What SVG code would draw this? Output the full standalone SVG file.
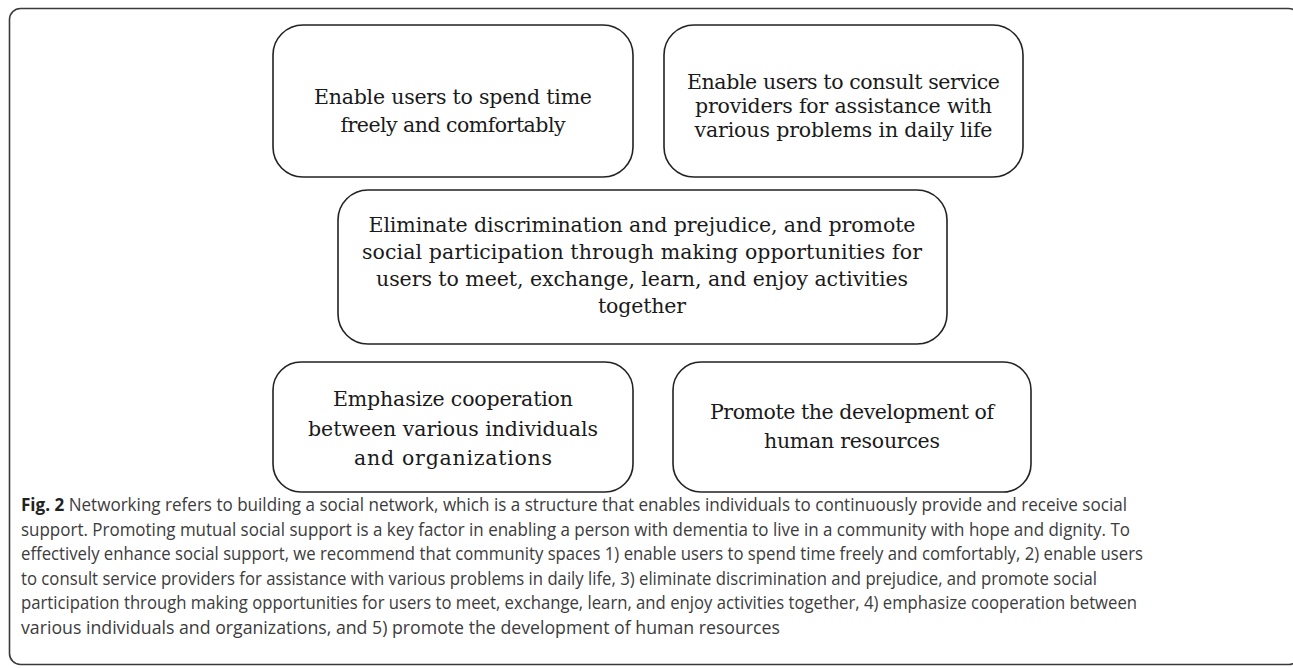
<svg xmlns="http://www.w3.org/2000/svg" width="1293" height="668" viewBox="0 0 1293 668">
  <style>
    .frame { fill: #ffffff; stroke: #3a3a3a; stroke-width: 1.6; }
    .box { fill: #ffffff; stroke: #222222; stroke-width: 1.6; }
    .lbl { font-family: "DejaVu Serif", "Liberation Serif", serif; font-size: 20.5px; fill: #1a1a1a; text-anchor: middle; }
    .cap { font-family: "Open Sans", "Liberation Sans", sans-serif; font-size: 18px; fill: #3c3c3c; }
    .b { font-weight: bold; fill: #222222; }
  </style>

  <!-- figure frame -->
  <rect class="frame" x="9.5" y="8.5" width="1290" height="656" rx="11"/>

  <g id="node-spend-time">
    <rect class="box" x="273" y="25" width="360" height="152" rx="30"/>
    <text class="lbl" x="453" y="104" textLength="278" lengthAdjust="spacing">Enable users to spend time</text>
    <text class="lbl" x="453" y="132" textLength="225" lengthAdjust="spacing">freely and comfortably</text>
  </g>

  <g id="node-consult">
    <rect class="box" x="664" y="25" width="359" height="152" rx="30"/>
    <text class="lbl" x="843.5" y="89" textLength="313" lengthAdjust="spacing">Enable users to consult service</text>
    <text class="lbl" x="843.5" y="113" textLength="297" lengthAdjust="spacing">providers for assistance with</text>
    <text class="lbl" x="843.5" y="137" textLength="298" lengthAdjust="spacing">various problems in daily life</text>
  </g>

  <g id="node-eliminate">
    <rect class="box" x="338" y="190" width="609" height="154" rx="30"/>
    <text class="lbl" x="642" y="232" textLength="547" lengthAdjust="spacing">Eliminate discrimination and prejudice, and promote</text>
    <text class="lbl" x="642" y="259" textLength="560" lengthAdjust="spacing">social participation through making opportunities for</text>
    <text class="lbl" x="642" y="286" textLength="532" lengthAdjust="spacing">users to meet, exchange, learn, and enjoy activities</text>
    <text class="lbl" x="642" y="313" textLength="88" lengthAdjust="spacing">together</text>
  </g>

  <g id="node-cooperation">
    <rect class="box" x="273" y="362" width="360" height="130" rx="28"/>
    <text class="lbl" x="453" y="406" textLength="240" lengthAdjust="spacing">Emphasize cooperation</text>
    <text class="lbl" x="453" y="436" textLength="290" lengthAdjust="spacing">between various individuals</text>
    <text class="lbl" x="453" y="465" textLength="198" lengthAdjust="spacing">and organizations</text>
  </g>

  <g id="node-human-resources">
    <rect class="box" x="673" y="362" width="358" height="130" rx="28"/>
    <text class="lbl" x="852" y="419" textLength="284" lengthAdjust="spacing">Promote the development of</text>
    <text class="lbl" x="852" y="448" textLength="176" lengthAdjust="spacing">human resources</text>
  </g>

  <!-- no connectors in this figure -->
  <g id="connectors"/>

  <g id="caption">
    <text class="cap" x="21" y="511" textLength="1106" lengthAdjust="spacingAndGlyphs"><tspan class="b">Fig. 2</tspan> Networking refers to building a social network, which is a structure that enables individuals to continuously provide and receive social</text>
    <text class="cap" x="21" y="535.5" textLength="1109" lengthAdjust="spacingAndGlyphs">support. Promoting mutual social support is a key factor in enabling a person with dementia to live in a community with hope and dignity. To</text>
    <text class="cap" x="21" y="560" textLength="1122" lengthAdjust="spacingAndGlyphs">effectively enhance social support, we recommend that community spaces 1) enable users to spend time freely and comfortably, 2) enable users</text>
    <text class="cap" x="21" y="584.5" textLength="1076" lengthAdjust="spacingAndGlyphs">to consult service providers for assistance with various problems in daily life, 3) eliminate discrimination and prejudice, and promote social</text>
    <text class="cap" x="21" y="609" textLength="1116" lengthAdjust="spacingAndGlyphs">participation through making opportunities for users to meet, exchange, learn, and enjoy activities together, 4) emphasize cooperation between</text>
    <text class="cap" x="21" y="633.5" textLength="759" lengthAdjust="spacingAndGlyphs">various individuals and organizations, and 5) promote the development of human resources</text>
  </g>
</svg>
